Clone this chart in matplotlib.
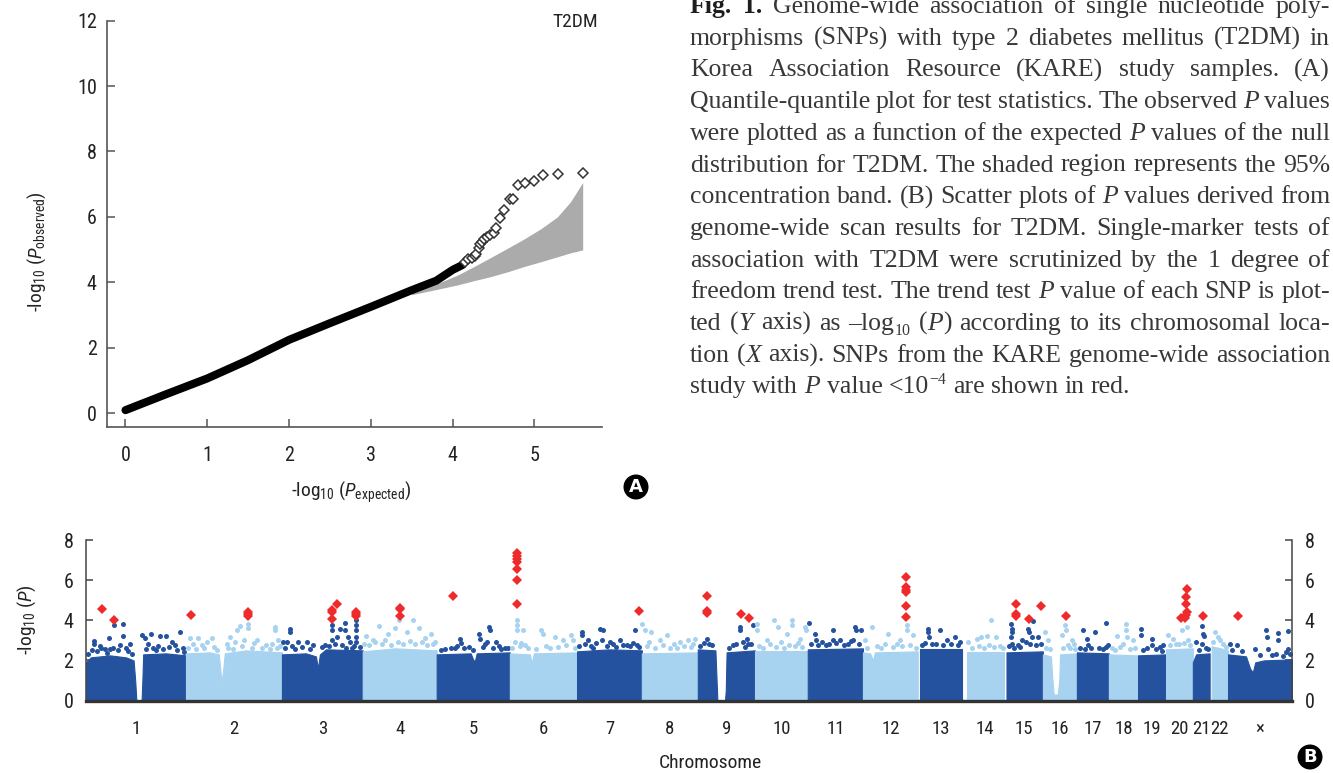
import re
import numpy as np
import matplotlib
matplotlib.use("Agg")
import matplotlib.pyplot as plt
from matplotlib import font_manager as fm
from matplotlib.patches import Ellipse

# ------------------------------------------------------------------ data
# (A) QQ plot: dense part of the observed curve (expected, observed)
qq_exp = [0.0, 0.5, 1.0, 1.5, 2.0, 2.5, 3.0, 3.5, 3.8, 4.0, 4.12]
qq_obs = [0.09, 0.58, 1.06, 1.62, 2.24, 2.75, 3.25, 3.76, 4.05, 4.38, 4.53]
# individual top SNPs drawn as open diamonds
qq_top_exp = [4.15, 4.19, 4.24, 4.27, 4.29, 4.32, 4.34, 4.36, 4.38, 4.42, 4.46,
              4.50, 4.53, 4.58, 4.63, 4.70, 4.74, 4.80, 4.89, 4.99, 5.11, 5.29, 5.59]
qq_top_obs = [4.62, 4.71, 4.75, 4.80, 4.88, 5.04, 5.16, 5.22, 5.32, 5.39, 5.46,
              5.52, 5.67, 5.97, 6.20, 6.54, 6.54, 6.98, 7.05, 7.09, 7.27, 7.32, 7.35]
# 95% concentration band
band_exp = [3.5, 3.8, 4.06, 4.26, 4.46, 4.67, 4.87, 5.08, 5.28, 5.44, 5.59]
band_lo = [3.62, 3.78, 3.92, 4.05, 4.17, 4.32, 4.48, 4.63, 4.78, 4.90, 4.99]
band_hi = [3.70, 3.95, 4.22, 4.48, 4.75, 5.04, 5.32, 5.64, 6.00, 6.46, 7.05]

# (B) Manhattan plot
chrom_labels = ["1", "2", "3", "4", "5", "6", "7", "8", "9", "10", "11", "12",
                "13", "14", "15", "16", "17", "18", "19", "20", "21", "22", "\u00d7"]
chrom_len = [250, 240, 202, 185, 183, 168, 162, 140, 143, 132, 138, 137,
             115, 105, 93, 85, 80, 73, 70, 67, 45, 43, 160]   # Mb (plotted span)

# solid bulk of SNPs: (position within chromosome [Mb], -log10 P envelope)
core_profiles = [
    [(0, 1.9), (12, 2.15), (60, 2.25), (100, 2.15), (119, 2.0), (123, 1.0), (126, 0.0),
     (139, 0.0), (141, 1.0), (143, 2.3), (200, 2.35), (250, 2.25)],
    [(0, 2.35), (60, 2.4), (82, 2.3), (86, 1.5), (89, 0.9), (93, 1.5), (97, 2.35),
     (150, 2.5), (240, 2.4)],
    [(0, 2.3), (60, 2.35), (85, 2.2), (90, 1.6), (95, 2.3), (110, 2.55), (202, 2.5)],
    [(0, 2.45), (80, 2.6), (185, 2.5)],
    [(0, 2.3), (85, 2.35), (92, 2.0), (96, 2.0), (100, 2.35), (183, 2.4)],
    [(0, 2.35), (50, 2.3), (55, 1.85), (60, 2.35), (168, 2.4)],
    [(0, 2.45), (80, 2.55), (162, 2.5)],
    [(0, 2.35), (140, 2.4)],
    [(0, 2.55), (44, 2.5), (47, 1.0), (49, 0.0), (68, 0.0), (70, 0.5), (72, 2.4), (143, 2.5)],
    [(0, 2.45), (132, 2.45)],
    [(0, 2.55), (138, 2.6)],
    [(0, 2.4), (18, 2.35), (25, 2.0), (30, 2.4), (137, 2.45)],
    [(0, 0.0), (5, 0.0), (5, 2.55), (110, 2.55), (110, 0.0), (115, 0.0)],
    [(0, 0.0), (7.5, 0.0), (7.5, 2.4), (102, 2.4), (102, 0.0), (105, 0.0)],
    [(0, 0.0), (2, 0.0), (2, 2.4), (93, 2.45)],
    [(0, 2.3), (20, 2.2), (24, 1.0), (27, 0.3), (37, 0.3), (41, 1.0), (43, 2.3), (85, 2.35)],
    [(0, 2.4), (80, 2.35)],
    [(0, 2.3), (73, 2.25)],
    [(0, 2.25), (70, 2.3)],
    [(0, 2.55), (67, 2.6)],
    [(0, 1.9), (8, 2.3), (42, 2.35), (42, 0.0), (45, 0.0)],
    [(0, 0.0), (2, 0.0), (2, 2.7), (25, 2.6), (43, 2.5)],
    [(0, 2.3), (45, 2.2), (55, 1.6), (62, 1.4), (68, 1.9), (90, 2.0), (160, 2.05)],
]

# scattered SNPs above the bulk (position within chromosome [Mb], -log10 P)
scatter_snps = [
    [(20, 2.8), (21, 2.95), (38, 2.6), (58, 3.13), (60, 2.55), (71, 3.75), (93, 3.83), (93, 3.2),
     (100, 2.6), (110, 2.8), (140, 3.25), (147, 3.1), (162, 3.33), (180, 2.7), (185, 3.2),
     (200, 3.2), (215, 2.9), (222, 2.75), (235, 3.4)],
    [(10, 3.13), (31, 3.1), (39, 2.75), (64, 3.13), (102, 2.8), (110, 3.17), (127, 3.5),
     (135, 3.7), (156, 3.8), (156, 3.63), (177, 3.0), (200, 2.75), (222, 3.67), (222, 3.5), (231, 3.0)],
    [(3, 2.9), (12, 2.9), (20, 3.58), (20, 3.4), (41, 2.9), (62, 2.9), (107, 2.75), (126, 3.75),
     (126, 3.5), (126, 3.0), (137, 3.17), (145, 3.58), (157, 3.87), (157, 3.5), (166, 3.17),
     (174, 2.6), (185, 4.0), (185, 3.75), (185, 3.5), (185, 3.17), (185, 2.9)],
    [(7.5, 3.2), (25, 3.0), (40, 3.7), (62, 3.3), (80, 3.6), (92, 4.0), (112, 3.4), (125, 4.0),
     (142, 3.6), (155, 3.1), (170, 3.3), (180, 2.9)],
    [(37, 2.63), (59, 3.08), (60, 2.85), (82, 2.67), (107, 3.33), (108, 3.08), (132, 3.67),
     (133, 3.5), (127, 2.9), (149, 2.9), (170, 2.6)],
    [(19, 4.0), (19, 3.75), (19, 3.5), (33, 3.5), (12.5, 2.9), (37, 2.75), (79, 3.5), (82, 3.33),
     (112, 3.17), (133, 3.0), (154, 3.25), (158, 3.0)],
    [(12, 3.25), (13, 3.4), (28, 3.0), (40, 2.6), (57.5, 3.58), (66, 3.5), (62, 3.0), (82.5, 2.9),
     (107.5, 3.0), (124, 2.75), (145, 3.5), (150, 2.75)],
    [(1, 3.83), (7.5, 3.5), (24, 3.4), (45, 3.0), (62, 3.25), (95, 2.9), (115, 3.0), (132, 3.08)],
    [(22, 3.08), (27, 2.8), (87.5, 2.75), (105, 3.5), (106, 3.67), (122, 3.08), (126, 2.8), (138, 3.75)],
    [(4, 3.83), (6, 3.5), (29, 3.0), (47.5, 4.0), (58, 3.67), (79, 3.33), (92, 4.0), (92, 3.75),
     (112.5, 3.08), (125, 3.67), (127, 3.5)],
    [(3, 3.87), (17.5, 3.33), (20, 3.0), (62, 3.53), (63, 3.0), (80, 3.0), (117.5, 3.67),
     (120, 3.5), (134, 3.5), (112, 3.0), (45, 2.75)],
    [(22, 3.67), (5, 3.0), (63, 3.3), (92.5, 3.0), (109, 3.75), (109, 3.5), (126, 3.25)],
    [(26, 3.58), (26, 3.42), (28, 3.17), (55, 3.5), (72, 3.0), (92.5, 3.17), (45, 2.8)],
    [(11, 2.92), (32, 3.08), (44, 3.17), (57, 3.2), (67, 4.0), (82, 3.17)],
    [(14, 3.83), (15, 3.58), (14, 3.17), (17, 3.4), (16, 2.8), (56, 3.58), (58, 3.4), (68, 3.97),
     (66, 3.17), (81, 3.17), (30, 2.75), (42, 3.0)],
    [(5, 3.42), (13, 3.0), (47, 3.25), (55, 3.75), (57, 3.5), (72, 3.0), (77, 2.8)],
    [(16, 3.5), (26, 3.08), (29, 2.75), (45, 3.42), (72.5, 3.87), (78, 2.75)],
    [(21, 3.2), (42.5, 3.8), (43, 3.5), (45, 3.17), (35, 2.8), (61, 3.0)],
    [(7, 3.58), (7, 3.25), (34, 3.08), (36, 2.75), (55, 2.67), (63, 2.75)],
    [(6, 3.25), (18, 3.08), (39, 3.5), (52, 3.67), (54, 3.0), (33, 2.8)],
    [(9, 2.9), (24, 3.7), (26, 3.33), (29, 3.2), (22, 2.8)],
    [(10, 3.42), (18, 3.17), (22, 3.0)],
    [(5, 2.83), (23, 2.75), (67.5, 2.58), (94, 3.53), (97, 3.17), (100, 2.58), (126, 3.37),
     (126, 3.0), (151, 3.47), (151, 2.58)],
]

# dense fringe of SNPs just above the bulk (position [Mb], -log10 P)
fringe_snps = [
    [(5, 2.3), (15, 2.5), (28, 2.45), (35, 2.7), (48, 2.55), (52, 2.35), (67, 2.6), (80, 2.5),
     (86, 2.75), (105, 2.45), (115, 2.3), (150, 2.55), (155, 2.8), (168, 2.6), (175, 2.5),
     (192, 2.55), (208, 2.65), (228, 2.5), (242, 2.6), (246, 2.4)],
    [(5, 2.6), (18, 2.8), (25, 2.55), (45, 2.6), (52, 2.9), (70, 2.65), (78, 2.5), (105, 2.6),
     (118, 2.55), (122, 2.9), (140, 2.7), (145, 3.0), (165, 2.6), (170, 2.85), (190, 2.6),
     (210, 2.55), (215, 2.8), (228, 2.6), (236, 2.7)],
    [(8, 2.6), (25, 2.7), (32, 2.55), (50, 2.65), (70, 2.55), (78, 2.75), (100, 2.65),
     (118, 2.7), (132, 2.8), (150, 2.75), (160, 2.6), (170, 2.9), (180, 2.7), (195, 2.65)],
    [(3, 2.8), (15, 2.75), (30, 2.9), (48, 2.8), (55, 3.0), (70, 2.75), (88, 2.9), (100, 2.8),
     (118, 2.95), (132, 2.8), (148, 2.9), (162, 2.75), (175, 2.8)],
    [(10, 2.5), (22, 2.55), (45, 2.6), (52, 2.7), (68, 2.6), (90, 2.5), (115, 2.65), (120, 2.8),
     (140, 2.6), (155, 2.7), (162, 2.55), (178, 2.6)],
    [(5, 2.6), (25, 2.7), (28, 2.85), (45, 2.6), (65, 2.55), (90, 2.7), (100, 2.6), (120, 2.65),
     (140, 2.75), (162, 2.6)],
    [(5, 2.7), (20, 2.8), (35, 2.7), (48, 2.85), (75, 2.7), (90, 2.8), (98, 2.65), (115, 2.75),
     (132, 2.7), (140, 2.85), (155, 2.65)],
    [(12, 2.7), (18, 2.9), (33, 2.6), (52, 2.75), (70, 2.6), (80, 2.8), (88, 2.6), (105, 2.7),
     (122, 2.65), (128, 2.8)],
    [(5, 2.7), (15, 2.85), (35, 2.75), (78, 2.6), (95, 2.8), (112, 2.9), (118, 2.65), (132, 2.8)],
    [(10, 2.7), (20, 2.6), (38, 2.8), (52, 2.65), (65, 2.9), (72, 2.6), (85, 2.75), (100, 2.7),
     (108, 2.85), (118, 2.65)],
    [(8, 2.8), (25, 2.75), (35, 2.9), (52, 2.8), (70, 2.85), (90, 2.75), (100, 2.8), (108, 2.95),
     (128, 2.8)],
    [(10, 2.6), (35, 2.7), (45, 2.6), (55, 2.8), (75, 2.65), (85, 2.8), (98, 2.7), (118, 2.75),
     (132, 2.6)],
    [(10, 2.75), (18, 2.85), (35, 2.8), (62, 2.75), (82, 2.8), (100, 2.75), (105, 2.9)],
    [(20, 2.6), (38, 2.7), (50, 2.6), (62, 2.75), (75, 2.65), (92, 2.7), (98, 2.6)],
    [(8, 2.7), (22, 2.6), (36, 2.65), (50, 2.9), (62, 2.8), (75, 2.75), (88, 2.8)],
    [(8, 2.6), (18, 2.55), (50, 2.6), (62, 2.75), (68, 2.6), (80, 2.55)],
    [(8, 2.6), (20, 2.55), (35, 2.6), (55, 2.6), (65, 2.55), (74, 2.65)],
    [(8, 2.6), (15, 2.5), (28, 2.65), (52, 2.55), (66, 2.6)],
    [(12, 2.5), (22, 2.6), (45, 2.55), (60, 2.45)],
    [(10, 2.75), (25, 2.8), (45, 2.85), (60, 2.75)],
    [(15, 2.5), (32, 2.6), (38, 2.55)],
    [(6, 2.9), (30, 2.8), (38, 2.65)],
    [(10, 2.5), (35, 2.45), (80, 2.25), (110, 2.25), (120, 2.3), (138, 2.2), (145, 2.4), (156, 2.3)],
]

# SNPs with P < 1e-4 (chromosome index, position [Mb], -log10 P)
red_snps = [
    (0, 41, 4.58), (0, 71, 4.03),
    (1, 12.5, 4.25), (1, 156, 4.2), (1, 156, 4.32), (1, 156, 4.42),
    (2, 126, 4.5), (2, 126, 4.42), (2, 126, 4.08), (2, 137, 4.8),
    (2, 185, 4.42), (2, 185, 4.33), (2, 185, 4.2),
    (3, 92.5, 4.63), (3, 92.5, 4.55), (3, 92.5, 4.2),
    (4, 41, 5.2),
    (5, 19, 7.33), (5, 19, 7.2), (5, 19, 7.03), (5, 19, 6.92), (5, 19, 6.53), (5, 19, 6.0), (5, 19, 4.8),
    (6, 156, 4.47),
    (8, 23, 5.2), (8, 23, 4.45), (8, 23, 4.38), (8, 107, 4.33), (8, 128, 4.12),
    (11, 107, 6.17), (11, 107, 5.67), (11, 107, 5.53), (11, 107, 5.42), (11, 107, 4.72), (11, 108, 4.17),
    (14, 25, 4.8), (14, 25, 4.33), (14, 25, 4.2), (14, 58, 4.08), (14, 89, 4.72),
    (15, 57, 4.2),
    (19, 37, 4.12), (19, 47.5, 4.12), (19, 50, 4.8), (19, 50, 5.17), (19, 52, 5.58),
    (19, 52, 4.42), (19, 51, 4.25),
    (20, 26, 4.2),
    (22, 24, 4.2),
]

caption_lines = [
    "{b:Fig. 1.} Genome-wide association of single nucleotide poly-",
    "morphisms (SNPs) with type 2 diabetes mellitus (T2DM) in",
    "Korea Association Resource (KARE) study samples. (A)",
    "Quantile-quantile plot for test statistics. The observed {i:P} values",
    "were plotted as a function of the expected {i:P} values of the null",
    "distribution for T2DM. The shaded region represents the 95%",
    "concentration band. (B) Scatter plots of {i:P} values derived from",
    "genome-wide scan results for T2DM. Single-marker tests of",
    "association with T2DM were scrutinized by the 1 degree of",
    "freedom trend test. The trend test {i:P} value of each SNP is plot-",
    "ted ({i:Y} axis) as \u2013log{sub:10} ({i:P}) according to its chromosomal loca-",
    "tion ({i:X} axis). SNPs from the KARE genome-wide association",
    "study with {i:P} value <10{sup:\u22124} are shown in red.",
]

# ------------------------------------------------------------------ fonts
def _has(fam):
    try:
        fm.findfont(fm.FontProperties(family=fam), fallback_to_default=False)
        return True
    except Exception:
        return False

SANS, SCALE = "Liberation Sans", 0.84
for cand in ["Liberation Sans Narrow", "Roboto Condensed", "Open Sans Condensed"]:
    if _has(cand):
        SANS, SCALE = cand, 1.0
        break
SERIF = "Liberation Serif" if _has("Liberation Serif") else "DejaVu Serif"

plt.rcParams["font.family"] = [SANS, "DejaVu Sans"]
plt.rcParams["mathtext.fontset"] = "custom"
plt.rcParams["mathtext.rm"] = SANS
plt.rcParams["mathtext.it"] = SANS + ":italic"
plt.rcParams["mathtext.bf"] = SANS + ":bold"

TXT = "#222222"
FS_TICK = 14.5 * SCALE
FS_LAB = 14.0 * SCALE

W, H = 1333, 773
fig = plt.figure(figsize=(W / 100, H / 100), dpi=100)
fig.patch.set_facecolor("white")


def fx(px):
    return px / W


def fy(py):
    return 1 - py / H


# ------------------------------------------------------------------ (A) QQ
ax1 = fig.add_axes([fx(106.5), fy(426.7), (601.5 - 106.5) / W, (426.7 - 20.7) / H])
ax1.set_xlim(-0.232, 5.82)
ax1.set_ylim(-0.416, 12)
ax1.fill_between(band_exp, band_lo, band_hi, color="#ababab", lw=0, zorder=1)
ax1.plot(qq_exp, qq_obs, color="black", lw=5.8, solid_capstyle="round", zorder=3)
ax1.plot(qq_top_exp, qq_top_obs, ls="none", marker="D", ms=5.5, mfc="white",
         mec="#333333", mew=1.1, zorder=4)
for s in ["top", "right"]:
    ax1.spines[s].set_visible(False)
for s in ["left", "bottom"]:
    ax1.spines[s].set_color("#555555")
    ax1.spines[s].set_linewidth(1.2)
ax1.spines["left"].set_bounds(-0.416, 12)
ax1.set_xticks([0, 1, 2, 3, 4, 5])
ax1.set_yticks([0, 2, 4, 6, 8, 10, 12])
ax1.tick_params(axis="x", direction="in", length=5.5, width=1.1, color="#555555",
                pad=14, labelsize=FS_TICK, labelcolor=TXT)
ax1.tick_params(axis="y", direction="in", length=5.5, width=1.1, color="#555555",
                pad=7, labelsize=FS_TICK, labelcolor=TXT)
ax1.text(5.5, 11.97, "T2DM", ha="center", va="center", fontsize=FS_LAB, color=TXT)

fig.text(fx(351), fy(492), r"-log$_{10}$ ($\mathit{P}_{\mathrm{expected}}$)",
         ha="center", va="center", fontsize=FS_LAB, color=TXT)
fig.text(fx(37), fy(252), r"-log$_{10}$ ($\mathit{P}_{\mathrm{observed}}$)",
         ha="center", va="center", rotation=90, fontsize=FS_LAB, color=TXT)

# ------------------------------------------------------------------ (B) Manhattan
DARK, LIGHT, RED = "#24529e", "#a7d3f0", "#ee2a2a"
ax2 = fig.add_axes([fx(86), fy(700.5), 1206 / W, 160.5 / H])
offsets = np.concatenate([[0], np.cumsum(chrom_len)[:-1]])
total = float(np.sum(chrom_len))
ax2.set_xlim(0, total)
ax2.set_ylim(0, 8)

for i, (prof, pts, fr) in enumerate(zip(core_profiles, scatter_snps, fringe_snps)):
    col = DARK if i % 2 == 0 else LIGHT
    px = [offsets[i] + p for p, _ in prof]
    ph = [h for _, h in prof]
    ax2.fill_between(px, 0, ph, color=col, lw=0.8, edgecolor=col, zorder=2)
    allp = pts + fr
    sx = [offsets[i] + p for p, _ in allp]
    sy = [v for _, v in allp]
    ax2.plot(sx, sy, ls="none", marker="o", ms=3.6, mew=0, color=col, zorder=2)

rx = [offsets[c] + p for c, p, _ in red_snps]
ry = [v for _, _, v in red_snps]
ax2.plot(rx, ry, ls="none", marker="D", ms=4.8, mew=0, color=RED, zorder=4)

ax2.spines["top"].set_visible(False)
for s in ["left", "right"]:
    ax2.spines[s].set_color("#444444")
    ax2.spines[s].set_linewidth(1.1)
    ax2.spines[s].set_bounds(0, 8)
ax2.spines["bottom"].set_color("#333333")
ax2.spines["bottom"].set_linewidth(2.4)
ax2.spines["bottom"].set_zorder(5)
ax2.set_yticks([0, 2, 4, 6, 8])
ax2.tick_params(axis="y", which="both", left=True, right=True, labelleft=True,
                labelright=True, direction="in", length=5, width=1.1,
                color="#444444", labelsize=FS_TICK, labelcolor=TXT)
ax2.tick_params(axis="y", which="both", pad=9)
centers = offsets + np.array(chrom_len) / 2.0
ax2.set_xticks(centers)
ax2.set_xticklabels(chrom_labels)
ax2.tick_params(axis="x", length=0, pad=14, labelsize=FS_TICK * 0.93, labelcolor=TXT)

fig.text(fx(710), fy(763), "Chromosome", ha="center", va="center",
         fontsize=FS_LAB, color=TXT)
fig.text(fx(27), fy(620), r"-log$_{10}$ ($\mathit{P}$)", ha="center", va="center",
         rotation=90, fontsize=FS_LAB, color=TXT)

# ------------------------------------------------------------------ badges
for lab, cx, cy in [("A", 636, 487), ("B", 1310, 757)]:
    fig.add_artist(Ellipse((fx(cx), fy(cy)), 25 / W, 25 / H, transform=fig.transFigure,
                           facecolor="black", edgecolor="none"))
    fig.text(fx(cx), fy(cy + 0.5), lab, ha="center", va="center", color="white",
             fontsize=13, fontweight="bold", family="DejaVu Sans")

# ------------------------------------------------------------------ caption
renderer = fig.canvas.get_renderer()


def parse(line):
    segs, pos = [], 0
    for m in re.finditer(r"\{(\w+):([^}]*)\}", line):
        if m.start() > pos:
            segs.append((line[pos:m.start()], "n"))
        segs.append((m.group(2), m.group(1)))
        pos = m.end()
    if pos < len(line):
        segs.append((line[pos:], "n"))
    words = [[]]
    for txt, st in segs:
        parts = txt.split(" ")
        for k, p in enumerate(parts):
            if k > 0:
                words.append([])
            if p:
                words[-1].append((p, st))
    return [w for w in words if w]


def fprops(st, size):
    kw = dict(family=SERIF, size=size)
    if st == "i":
        kw["style"] = "italic"
    if st == "b":
        kw["weight"] = "bold"
    if st in ("sub", "sup"):
        kw["size"] = size * 0.62
    return fm.FontProperties(**kw)


def twidth(txt, fp):
    t = fig.text(0, 0, txt, fontproperties=fp)
    w = t.get_window_extent(renderer).width
    t.remove()
    return w


parsed = [parse(l) for l in caption_lines]
X0, X1 = 690.0, 1330.0
target = X1 - X0

size = 22.0
while True:
    fpn = fprops("n", size)
    space = twidth("n n", fpn) - twidth("nn", fpn)
    maxw = 0
    for words in parsed[:-1]:
        wsum = sum(twidth(t, fprops(st, size)) for w in words for t, st in w)
        maxw = max(maxw, wsum + space * (len(words) - 1) * 0.85)
    if maxw <= target or size < 11:
        break
    size -= 0.25

spx = size * 100 / 72.0
for li, words in enumerate(parsed):
    base = 13 + 31.7 * li
    widths = [[twidth(t, fprops(st, size)) for t, st in w] for w in words]
    tot = sum(sum(w) for w in widths)
    if li < len(parsed) - 1 and len(words) > 1:
        gap = (target - tot) / (len(words) - 1)
    else:
        gap = space
    x = X0
    for w, ws in zip(words, widths):
        for (t, st), sw in zip(w, ws):
            dy = 0
            if st == "sub":
                dy = 0.2 * spx
            elif st == "sup":
                dy = -0.38 * spx
            col = "#1e1e1e" if st == "b" else "#383838"
            fig.text(fx(x), fy(base + dy), t, fontproperties=fprops(st, size),
                     ha="left", va="baseline", color=col)
            x += sw
        x += gap

fig.savefig("out.png", dpi=100, facecolor="white")
